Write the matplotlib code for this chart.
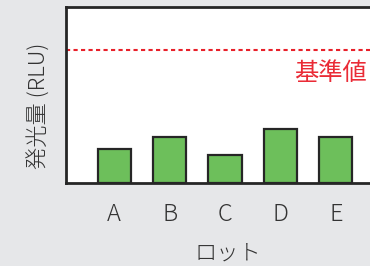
import numpy as np
import matplotlib.pyplot as plt

plt.rcParams['font.family'] = ['Noto Sans CJK JP', 'DejaVu Sans']

lots = ['A', 'B', 'C', 'D', 'E']
values = [19.5, 26, 16, 30.5, 26]
baseline = 75.5

fig = plt.figure(figsize=(3.7, 2.66), dpi=100, facecolor='#e6e7e9')
# axes runs past the right edge of the picture, as in the reference
ax = fig.add_axes([66/370, 1 - 183/266, 318/370, 176/266])
ax.set_facecolor('white')

x = np.arange(len(lots))
ax.bar(x, values, width=0.6, color='#6dbf5b', edgecolor='#262626', linewidth=1.6, zorder=3)
ax.axhline(baseline, color='#e8202a', linestyle=(0, (2, 1.6)), linewidth=1.5, zorder=2)
ax.text(3.9, 62.5, '基準値', color='#ea2b36', fontsize=17.5,
        ha='center', va='center')

ax.set_xlim(-0.87, 4.87)
ax.set_ylim(0, 100)
ax.set_xticks(x)
ax.set_xticklabels(lots, fontsize=17, color='#333333', fontweight='light')
ax.tick_params(axis='x', length=0, pad=14)
ax.set_yticks([])
for s in ax.spines.values():
    s.set_linewidth(2)
    s.set_color('#262626')

ax.set_xlabel('ロット', fontsize=16, color='#333333', fontweight='light', va='center')
ax.xaxis.set_label_coords((228 - 66) / 318, -(254 - 183) / 176)
ax.set_ylabel('発光量 (RLU)', fontsize=16, color='#333333', fontweight='light', va='center')
ax.yaxis.set_label_coords(-(66 - 39) / 318, (183 - 106) / 176)

fig.savefig('out.png', dpi=100, facecolor=fig.get_facecolor())
